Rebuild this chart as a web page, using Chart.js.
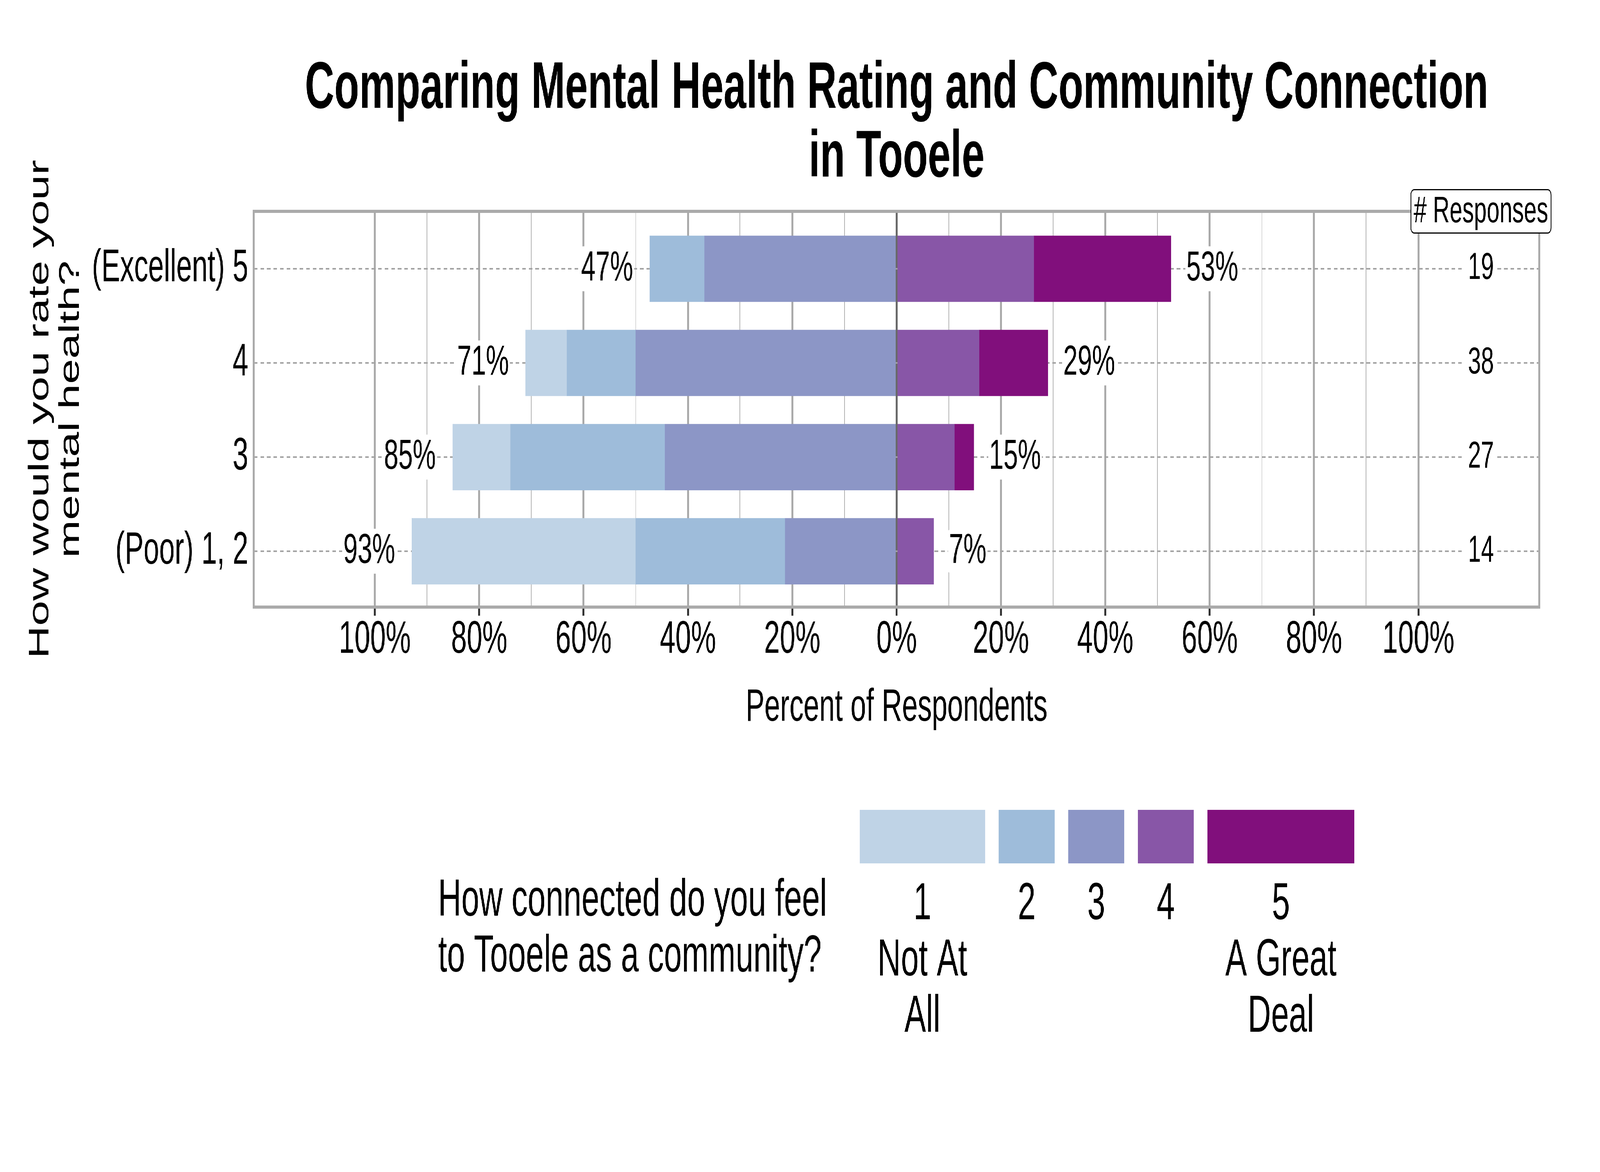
<!DOCTYPE html>
<html>
<head>
<meta charset="utf-8">
<script src="https://cdn.jsdelivr.net/npm/chart.js@4/dist/chart.umd.min.js"></script>
<style>
  html, body { margin: 0; padding: 0; background: #ffffff; overflow: hidden; }
  #wrap { width: 6600px; height: 3000px; position: absolute; left: 0; top: 0; background: #ffffff; transform-origin: 0 0; }
  #c { width: 6600px; height: 3000px; display: block; }
</style>
</head>
<body>
<div id="wrap"><canvas id="c" width="6600" height="3000"></canvas></div>
<script>
// ---------------- data ----------------
const chartTitle = ['Comparing Mental Health Rating and Community Connection', 'in Tooele'];
const yAxisTitle = ['How would you rate your', 'mental health?'];
const xAxisTitle = 'Percent of Respondents';
const countHeader = '# Responses';

const rowLabels = ['(Excellent) 5', '4', '3', '(Poor) 1, 2'];
const responses = [19, 38, 27, 14];

// percent of respondents in each connection category (1 = Not At All ... 5 = A Great Deal)
const connect1 = [0, 7.9, 11.1, 42.9];
const connect2 = [10.5, 13.2, 29.6, 28.6];
const connect3 = [36.8, 50.0, 44.4, 21.4];
const connect4 = [26.3, 15.8, 11.1, 7.1];
const connect5 = [26.3, 13.2, 3.7, 0];

const categoryNames = ['1 Not At All', '2', '3', '4', '5 A Great Deal'];
const legendLines = [['1', 'Not At', 'All'], ['2'], ['3'], ['4'], ['5', 'A Great', 'Deal']];
const legendTitle = ['How connected do you feel', 'to Tooele as a community?'];
const colors = ['#bfd3e6', '#9ebcda', '#8c96c6', '#8856a7', '#810f7c'];

const xTickValues = [-100, -90, -80, -70, -60, -50, -40, -30, -20, -10, 0, 10, 20, 30, 40, 50, 60, 70, 80, 90, 100];

// fit the 6600x3000 drawing to the viewport actually used
(function fit() {
  const vw = window.innerWidth || document.documentElement.clientWidth || 6600;
  const vh = window.innerHeight || document.documentElement.clientHeight || 3000;
  document.getElementById('wrap').style.transform = 'scale(' + (vw / 6600) + ',' + (vh / 3000) + ')';
})();

// ---------------- chart ----------------
const FONT = "'Liberation Sans', Arial, Helvetica, sans-serif";
Chart.defaults.font.family = FONT;
Chart.defaults.color = '#000000';

const series = [connect1, connect2, connect3, connect4, connect5];
const stackOrder = [2, 1, 0, 3, 4]; // neutral-most first so stacks grow outward from 0
const datasets = stackOrder.map(k => ({
  label: categoryNames[k],
  data: series[k].map((v, i) => ({ x: k < 3 ? -v : v, y: i })),
  backgroundColor: colors[k],
  borderWidth: 0,
  barThickness: 169
}));

function roundBox(ctx, x, y, w, h, r) {
  ctx.beginPath();
  ctx.moveTo(x + r, y);
  ctx.lineTo(x + w - r, y);
  ctx.arcTo(x + w, y, x + w, y + r, r);
  ctx.lineTo(x + w, y + h - r);
  ctx.arcTo(x + w, y + h, x + w - r, y + h, r);
  ctx.lineTo(x + r, y + h);
  ctx.arcTo(x, y + h, x, y + h - r, r);
  ctx.lineTo(x, y + r);
  ctx.arcTo(x, y, x + r, y, r);
  ctx.closePath();
}

function boxedText(ctx, text, x, yc, align, padX, h) {
  const w = ctx.measureText(text).width;
  let x0;
  if (align === 'right') x0 = x - w;
  else if (align === 'left') x0 = x;
  else x0 = x - w / 2;
  ctx.fillStyle = '#ffffff';
  roundBox(ctx, x0 - padX, yc - h / 2, w + 2 * padX, h, 12);
  ctx.fill();
  ctx.fillStyle = '#000000';
  ctx.textAlign = 'left';
  ctx.textBaseline = 'middle';
  ctx.fillText(text, x0, yc);
}

const overlay = {
  id: 'overlay',
  afterDatasetsDraw(chart) {
    const { ctx, chartArea: a } = chart;
    const x = chart.scales.x, y = chart.scales.y;
    ctx.save();
    // panel frame
    ctx.strokeStyle = '#aaaaaa';
    ctx.lineWidth = 8;
    ctx.strokeRect(a.left, a.top, a.right - a.left, a.bottom - a.top);

    // totals at bar ends
    ctx.font = '107px ' + FONT;
    rowLabels.forEach((_, i) => {
      const left = connect1[i] + connect2[i] + connect3[i];
      const right = connect4[i] + connect5[i];
      const yc = y.getPixelForValue(i);
      boxedText(ctx, Math.round(left) + '%', x.getPixelForValue(-left) - 69, yc, 'right', 4, 115);
      boxedText(ctx, Math.round(right) + '%', x.getPixelForValue(right) + 63, yc, 'left', 4, 115);
    });

    // response counts
    const cx = x.getPixelForValue(112);
    ctx.font = '96px ' + FONT;
    rowLabels.forEach((_, i) => {
      boxedText(ctx, String(responses[i]), cx, y.getPixelForValue(i), 'center', 13, 104);
    });

    // "# Responses" header box
    ctx.font = '95px ' + FONT;
    const hw = ctx.measureText(countHeader).width + 24;
    const hh = 111;
    roundBox(ctx, cx - hw / 2, a.top - hh / 2, hw, hh, 14);
    ctx.fillStyle = '#ffffff';
    ctx.fill();
    ctx.lineWidth = 3;
    ctx.strokeStyle = '#000000';
    ctx.stroke();
    ctx.fillStyle = '#000000';
    ctx.textAlign = 'center';
    ctx.textBaseline = 'middle';
    ctx.fillText(countHeader, cx, a.top + 2);
    ctx.restore();
  },
  afterDraw(chart) {
    const ctx = chart.ctx;
    ctx.save();
    ctx.font = '133px ' + FONT;
    ctx.fillStyle = '#000000';
    ctx.textBaseline = 'alphabetic';
    ctx.textAlign = 'left';
    legendTitle.forEach((t, k) => ctx.fillText(t, 1807, 2344 + k * 143));

    let bx = 3546;
    const by = 2073, bh = 137, gap = 56;
    legendLines.forEach((lines, k) => {
      const tw = Math.max(...lines.map(s => ctx.measureText(s).width));
      const bw = Math.max(tw + 148, 231);
      ctx.fillStyle = colors[k];
      ctx.fillRect(bx, by, bw, bh);
      ctx.fillStyle = '#000000';
      ctx.textAlign = 'center';
      lines.forEach((s, j) => ctx.fillText(s, bx + bw / 2, 2353 + j * 144));
      bx += bw + gap;
    });
    ctx.restore();
  }
};

new Chart(document.getElementById('c'), {
  type: 'bar',
  data: { datasets },
  options: {
    indexAxis: 'y',
    responsive: false,
    maintainAspectRatio: false,
    animation: false,
    devicePixelRatio: 1,
    layout: { padding: { left: 0, right: 250, top: 0, bottom: 1046 } },
    plugins: {
      legend: { display: false },
      tooltip: { enabled: false },
      title: {
        display: true,
        text: chartTitle,
        fullSize: false,
        color: '#000000',
        font: { size: 168, weight: 'bold', lineHeight: 1.0476 },
        padding: { top: 142, bottom: 47 }
      }
    },
    scales: {
      x: {
        type: 'linear',
        position: 'bottom',
        stacked: true,
        min: -123.2,
        max: 123.2,
        afterBuildTicks: s => { s.ticks = xTickValues.map(v => ({ value: v })); },
        afterFit: s => { s.height = 400; },
        ticks: {
          autoSkip: false,
          maxRotation: 0,
          minRotation: 0,
          padding: 5,
          color: '#000000',
          font: { size: 116, lineHeight: 1 },
          callback: v => (v % 20 === 0 ? Math.abs(v) + '%' : '')
        },
        grid: {
          drawOnChartArea: true,
          drawTicks: true,
          tickLength: 22,
          lineWidth: c => { const v = c.tick ? c.tick.value : 1; return v === 0 ? 9 : (v % 20 === 0 ? 8 : 3); },
          color: c => { const v = c.tick ? c.tick.value : 1; return v === 0 ? '#696969' : (v % 20 === 0 ? '#aaaaaa' : '#b4b4b4'); },
          tickWidth: 8,
          tickColor: c => { const v = c.tick ? c.tick.value : 1; return v % 20 === 0 ? '#333333' : 'rgba(0,0,0,0)'; }
        },
        border: { display: false },
        title: {
          display: true,
          text: xAxisTitle,
          color: '#000000',
          font: { size: 116, lineHeight: 1.2 },
          padding: { top: 0, bottom: 71 }
        }
      },
      y: {
        type: 'linear',
        position: 'left',
        stacked: true,
        reverse: true,
        offset: false,
        min: -0.61,
        max: 3.593,
        afterBuildTicks: s => { s.ticks = rowLabels.map((_, i) => ({ value: i })); },
        afterFit: s => { s.width = 1047; },
        ticks: {
          autoSkip: false,
          padding: 23,
          color: '#000000',
          font: { size: 116 },
          callback: v => rowLabels[v]
        },
        grid: { offset: false, drawTicks: false, color: '#a3a3a3', lineWidth: 4 },
        border: { display: false, dash: [15, 12] },
        title: {
          display: true,
          text: yAxisTitle,
          color: '#000000',
          font: { size: 116, lineHeight: 1.086 },
          padding: { top: 104, bottom: 0 }
        }
      }
    }
  },
  plugins: [overlay]
});
</script>
</body>
</html>
